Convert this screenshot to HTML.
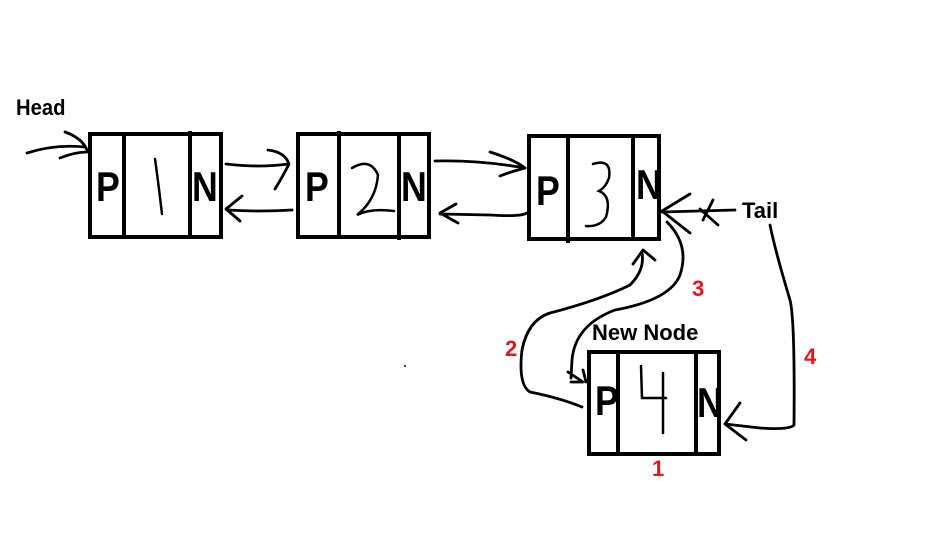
<!DOCTYPE html>
<html><head><style>
html,body{margin:0;padding:0;background:#fff;}
svg{display:block;}
text{font-family:"Liberation Sans",Arial,sans-serif;}
</style></head><body>
<svg width="936" height="552" viewBox="0 0 936 552">
<g fill="none" stroke="#000" stroke-width="4">
<rect x="90" y="134" width="131" height="103"/>
<line x1="124" y1="134" x2="124" y2="237"/><line x1="190" y1="131" x2="190" y2="237"/>
<rect x="298" y="134" width="131" height="103"/>
<line x1="339" y1="131" x2="339" y2="237"/><line x1="399" y1="132" x2="399" y2="240"/>
<rect x="529" y="136" width="130" height="103"/>
<line x1="568" y1="136" x2="568" y2="243"/><line x1="633" y1="136" x2="633" y2="239"/>
<rect x="589" y="352" width="130" height="102"/>
<line x1="618" y1="352" x2="618" y2="454"/><line x1="696" y1="352" x2="696" y2="456"/>
</g>
<g fill="none" stroke="#000" stroke-width="2.8" stroke-linecap="round" stroke-linejoin="round">
<path d="M27 153 Q55 144 85 147"/><path d="M65 132 Q82 138 87 150"/><path d="M60 158 Q75 152 87 152"/>
<path d="M226 164 Q260 168 288 164"/><path d="M268 150 Q285 152 289 164 Q283 176 275 189"/>
<path d="M292 210 Q260 212 228 210"/><path d="M242 196 L226 209 L240 221"/>
<path d="M435 161 Q480 160 525 168"/><path d="M490 152 Q515 160 525 168 Q510 172 500 176"/>
<path d="M527 213 Q520 217 490 215 L440 214"/><path d="M456 204 L440 213 L458 223"/>
<path d="M662 212 L735 210"/><path d="M690 194 L662 211 L690 233"/><path d="M700 209 L718 225 M713 200 L703 220"/>
<path d="M667 222 Q690 245 680 275 Q670 300 615 310 Q575 325 572 360 L571 378"/><path d="M568 372 L583 382 L571 382 M583 370 L586 382"/>
<path d="M582 407 Q560 398 530 392 Q518 385 522 350 Q528 320 550 313 Q600 300 630 285 Q645 270 642 253"/><path d="M633 264 L643 250 L655 260"/>
<path d="M770 225 Q775 250 790 300 Q795 320 794 425 Q790 430 760 428 L725 424"/><path d="M740 403 L725 424 L746 440"/>
</g>
<g font-weight="bold" font-size="42" fill="#000">
<text transform="translate(96,201) scale(0.85,1)">P</text><text transform="translate(192,201) scale(0.85,1)">N</text>
<text transform="translate(305,201) scale(0.85,1)">P</text><text transform="translate(401,201) scale(0.85,1)">N</text>
<text transform="translate(536,205) scale(0.85,1)">P</text><text transform="translate(636,199) scale(0.85,1)">N</text>
<text transform="translate(595,415) scale(0.85,1)">P</text><text transform="translate(697,417) scale(0.85,1)">N</text>
</g>
<g fill="none" stroke="#000" stroke-width="2.5" stroke-linecap="round">
<path d="M155 159 Q158 180 162 214"/>
<path d="M352 168 Q370 157 378 175 Q376 200 357 215 Q370 208 394 211"/>
<path d="M593 164 Q612 158 609 178 Q606 187 599 191 Q612 196 606 217 Q600 227 586 226"/>
<path d="M641 366 L642 398 L666 398 M663 373 L663 433"/>
</g>
<g font-weight="bold" font-size="22" fill="#000">
<text transform="translate(16,115) scale(0.92,1)">Head</text>
<text x="742" y="218">Tail</text>
<text x="592" y="340">New Node</text>
</g>
<g font-weight="bold" font-size="22" fill="#e8141c">
<text x="692" y="296">3</text>
<text x="505" y="356">2</text>
<text x="804" y="364">4</text>
<text x="652" y="476">1</text>
</g>
<circle cx="405" cy="366" r="1" fill="#000"/>
</svg>
</body></html>
